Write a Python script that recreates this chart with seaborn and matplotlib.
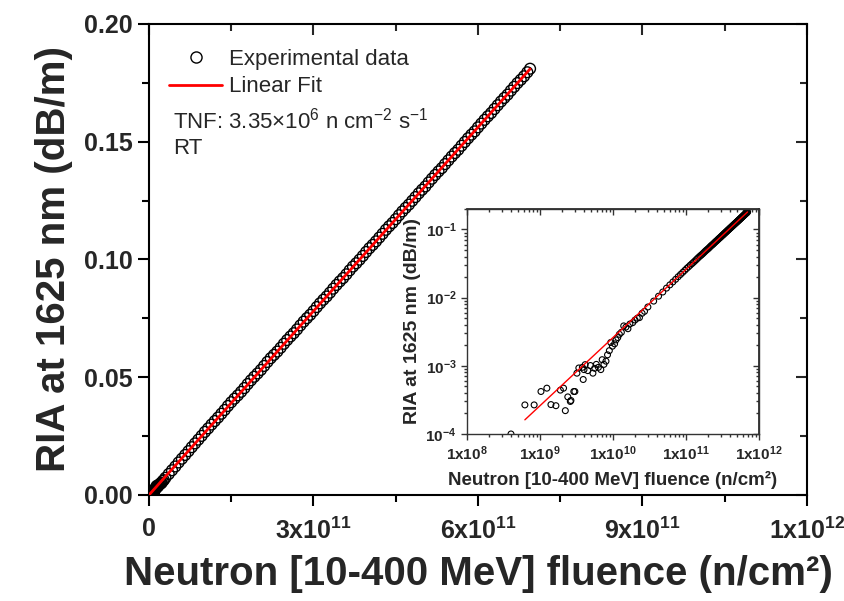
import numpy as np
import pandas as pd
import matplotlib
matplotlib.use('Agg')
import matplotlib.pyplot as plt
import seaborn as sns
from matplotlib.lines import Line2D
from matplotlib.ticker import FixedLocator, FixedFormatter, LogLocator, NullFormatter, MultipleLocator

# fluence in 1e9 n/cm^2, RIA in 1e-3 dB/m
fluence_low = [0.40, 0.62, 0.83, 1.03, 1.24, 1.41, 1.65, 1.90, 2.10, 2.22,
               2.40, 2.60, 2.65, 2.90, 3.00, 3.20, 3.40, 3.80, 3.90, 4.00,
               4.15, 4.50, 4.90, 5.30, 5.60, 5.90, 6.30, 6.80, 7.10, 7.50,
               8.00, 8.40, 8.90, 9.30, 9.80, 10.5, 11.0, 11.6, 12.2, 13.0,
               14.0, 15.0, 16.0, 17.0, 18.6, 20.0, 21.5, 23.0, 25.0, 27.0]
ria_low = [0.100, 0.267, 0.267, 0.42, 0.47, 0.27, 0.26, 0.44, 0.47, 0.22,
           0.35, 0.30, 0.31, 0.42, 0.42, 0.78, 0.93, 0.95, 0.63, 0.88,
           1.04, 0.85, 1.01, 0.78, 0.92, 1.05, 0.95, 0.88, 1.23, 1.05,
           1.17, 1.45, 1.67, 2.20, 1.94, 2.10, 2.40, 2.60, 2.90, 3.10,
           3.85, 3.70, 3.50, 4.10, 4.30, 4.70, 5.00, 5.10, 5.90, 6.30]

fluence_high = [30, 36, 42, 48, 54, 60, 66, 72, 78, 84,
                90, 96, 102, 108, 114, 120, 126, 132, 138, 144,
                150, 156, 162, 168, 174, 180, 186, 192, 198, 204,
                210, 216, 222, 228, 234, 240, 246, 252, 258, 264,
                270, 276, 282, 288, 294, 300, 306, 312, 318, 324,
                330, 336, 342, 348, 354, 360, 366, 372, 378, 384,
                390, 396, 402, 408, 414, 420, 426, 432, 438, 444,
                450, 456, 462, 468, 474, 480, 486, 492, 498, 504,
                510, 516, 522, 528, 534, 540, 546, 552, 558, 564,
                570, 576, 582, 588, 594, 600, 606, 612, 618, 624,
                630, 636, 642, 648, 654, 660, 666, 672, 678, 684,
                690, 695]
ria_high = [7.3, 8.9, 10.5, 12.1, 13.8, 15.4, 17.0, 18.6, 20.3, 21.9,
            23.5, 25.1, 26.8, 28.3, 29.9, 31.4, 32.9, 34.5, 36.1, 37.8,
            39.4, 40.9, 42.3, 43.8, 45.4, 47.1, 48.7, 50.2, 51.6, 53.1,
            54.8, 56.5, 58.1, 59.5, 60.9, 62.5, 64.2, 65.8, 67.3, 68.7,
            70.3, 72.0, 73.6, 75.1, 76.5, 78.1, 79.8, 81.4, 82.9, 84.3,
            85.9, 87.6, 89.2, 90.7, 92.1, 93.7, 95.4, 97.0, 98.4, 99.9,
            101.5, 103.2, 104.8, 106.2, 107.7, 109.3, 110.9, 112.6, 114.1, 115.5,
            117.1, 118.8, 120.4, 121.9, 123.3, 124.9, 126.5, 128.1, 129.6, 131.0,
            132.7, 134.3, 135.9, 137.4, 138.8, 140.5, 142.1, 143.7, 145.2, 146.6,
            148.3, 149.9, 151.5, 153.0, 154.4, 156.1, 157.7, 159.3, 160.8, 162.2,
            163.9, 165.5, 167.1, 168.6, 170.0, 171.7, 173.3, 174.9, 176.3, 177.8,
            179.5, 181.0]

main_xticks = [0, 3e11, 6e11, 9e11, 1.2e12]
main_xticklabels = ['0', r'$\mathbf{3x10^{11}}$', r'$\mathbf{6x10^{11}}$',
                    r'$\mathbf{9x10^{11}}$', r'$\mathbf{1x10^{12}}$']
main_yticks = [0.00, 0.05, 0.10, 0.15, 0.20]
main_yticklabels = ['0.00', '0.05', '0.10', '0.15', '0.20']
inset_xticks = [1e8, 1e9, 1e10, 1e11, 1e12]
inset_xticklabels = [r'$\mathbf{1x10^{8}}$', r'$\mathbf{1x10^{9}}$', r'$\mathbf{1x10^{10}}$',
                     r'$\mathbf{1x10^{11}}$', r'$\mathbf{1x10^{12}}$']
inset_yticks = [1e-4, 1e-3, 1e-2, 1e-1]
inset_yticklabels = [r'$\mathbf{10^{-4}}$', r'$\mathbf{10^{-3}}$', r'$\mathbf{10^{-2}}$', r'$\mathbf{10^{-1}}$']

xlabel = 'Neutron [10-400 MeV] fluence (n/cm²)'
ylabel = 'RIA at 1625 nm (dB/m)'

df = pd.DataFrame({
    'fluence': np.array(fluence_low + fluence_high) * 1e9,
    'ria': np.array(ria_low + ria_high) * 1e-3,
})

# linear fit through the origin
k = (df.fluence * df.ria).sum() / (df.fluence ** 2).sum()
fit = df[df.fluence >= 6e8][['fluence']].copy()
fit['ria'] = k * fit.fluence

sns.set_theme(style='ticks')
plt.rcParams['font.family'] = ['Liberation Sans', 'DejaVu Sans']
plt.rcParams['mathtext.fontset'] = 'custom'
plt.rcParams['mathtext.rm'] = 'Liberation Sans'
plt.rcParams['mathtext.it'] = 'Liberation Sans:italic'
plt.rcParams['mathtext.bf'] = 'Liberation Sans:bold'


def style_axes(ax, lw, major_len, minor_len, color='black'):
    for s in ax.spines.values():
        s.set_linewidth(lw)
        s.set_color(color)
    ax.tick_params(which='major', direction='out', length=major_len, width=lw, color=color)
    ax.tick_params(which='minor', direction='out', length=minor_len, width=lw, color=color)


fig = plt.figure(figsize=(8.45, 6.01), dpi=100)
ax = fig.add_axes([0.1763, 0.1764, 0.7787, 0.7837])

sns.scatterplot(data=df, x='fluence', y='ria', ax=ax, marker='o', s=60,
                facecolors='none', edgecolor='black', linewidth=1.0, zorder=2)
sns.lineplot(data=fit, x='fluence', y='ria', ax=ax, color='red', linewidth=2, zorder=3)

ax.set_xlim(0, 1.2e12)
ax.set_ylim(0, 0.20)
ax.xaxis.set_major_locator(FixedLocator(main_xticks))
ax.xaxis.set_major_formatter(FixedFormatter(main_xticklabels))
ax.xaxis.set_minor_locator(MultipleLocator(1.5e11))
ax.yaxis.set_major_locator(FixedLocator(main_yticks))
ax.yaxis.set_major_formatter(FixedFormatter(main_yticklabels))
ax.yaxis.set_minor_locator(MultipleLocator(0.025))
style_axes(ax, 1.5, 8, 5)
for lab in ax.get_xticklabels() + ax.get_yticklabels():
    lab.set_fontsize(18)
    lab.set_fontweight('bold')
ax.tick_params(axis='x', pad=8)
ax.set_xlabel(xlabel, fontsize=29, fontweight='bold', labelpad=8)
ax.set_ylabel(ylabel, fontsize=29, fontweight='bold', labelpad=8)

top = ax.secondary_xaxis('top')
top.xaxis.set_major_locator(FixedLocator(main_xticks))
top.xaxis.set_minor_locator(MultipleLocator(1.5e11))
top.set_xticklabels([])
top.tick_params(which='major', direction='in', length=8, width=1.5)
top.tick_params(which='minor', direction='in', length=5, width=1.5)
right = ax.secondary_yaxis('right')
right.yaxis.set_major_locator(FixedLocator(main_yticks))
right.yaxis.set_minor_locator(MultipleLocator(0.025))
right.set_yticklabels([])
right.tick_params(which='major', direction='in', length=8, width=1.5)
right.tick_params(which='minor', direction='in', length=5, width=1.5)

handles = [Line2D([], [], marker='o', linestyle='none', markerfacecolor='none',
                  markeredgecolor='black', markersize=8),
           Line2D([], [], color='red', linewidth=2)]
ax.legend(handles, ['Experimental data', 'Linear Fit'], loc='upper left',
          bbox_to_anchor=(0.0, 0.99), frameon=False, fontsize=16,
          handlelength=2.4, handletextpad=0.3, labelspacing=0.3)
ax.text(0.036, 0.795, r'TNF: 3.35$\times$10$^{6}$ n cm$^{-2}$ s$^{-1}$', transform=ax.transAxes,
        fontsize=16, va='center', ha='left')
ax.text(0.036, 0.735, 'RT', transform=ax.transAxes, fontsize=16, va='center', ha='left')

# inset (log-log)
axi = fig.add_axes([0.5527, 0.2779, 0.3456, 0.3744])
sns.scatterplot(data=df, x='fluence', y='ria', ax=axi, marker='o', s=18,
                facecolors='none', edgecolor='black', linewidth=0.8, zorder=2)
sns.lineplot(data=fit, x='fluence', y='ria', ax=axi, color='red', linewidth=1, zorder=3)
axi.set_xscale('log')
axi.set_yscale('log')
axi.set_xlim(1e8, 1e12)
axi.set_ylim(1e-4, 0.2)
axi.xaxis.set_major_locator(FixedLocator(inset_xticks))
axi.xaxis.set_major_formatter(FixedFormatter(inset_xticklabels))
axi.xaxis.set_minor_locator(LogLocator(base=10, subs=np.arange(2, 10), numticks=20))
axi.xaxis.set_minor_formatter(NullFormatter())
axi.yaxis.set_major_locator(FixedLocator(inset_yticks))
axi.yaxis.set_major_formatter(FixedFormatter(inset_yticklabels))
axi.yaxis.set_minor_locator(LogLocator(base=10, subs=np.arange(2, 10), numticks=20))
axi.yaxis.set_minor_formatter(NullFormatter())
style_axes(axi, 1.0, 4, 2, color='#333333')
for lab in axi.get_xticklabels() + axi.get_yticklabels():
    lab.set_fontsize(11)
axi.set_xlabel(xlabel, fontsize=13.5, fontweight='bold', labelpad=6)
axi.set_ylabel(ylabel, fontsize=14, fontweight='bold', labelpad=3)

itop = axi.secondary_xaxis('top')
itop.set_xscale('log')
itop.xaxis.set_major_locator(FixedLocator(inset_xticks))
itop.xaxis.set_minor_locator(LogLocator(base=10, subs=np.arange(2, 10), numticks=20))
itop.xaxis.set_major_formatter(NullFormatter())
itop.xaxis.set_minor_formatter(NullFormatter())
itop.tick_params(which='major', direction='in', length=4, width=1.0, color='#333333')
itop.tick_params(which='minor', direction='in', length=2, width=1.0, color='#333333')
iright = axi.secondary_yaxis('right')
iright.yaxis.set_major_locator(FixedLocator(inset_yticks))
iright.yaxis.set_minor_locator(LogLocator(base=10, subs=np.arange(2, 10), numticks=20))
iright.yaxis.set_major_formatter(NullFormatter())
iright.yaxis.set_minor_formatter(NullFormatter())
iright.tick_params(which='major', direction='in', length=4, width=1.0, color='#333333')
iright.tick_params(which='minor', direction='in', length=2, width=1.0, color='#333333')

fig.savefig('out.png', dpi=100)
